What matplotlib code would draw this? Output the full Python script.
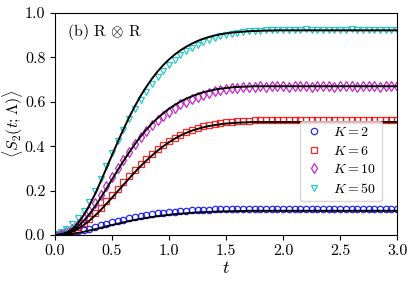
import matplotlib
matplotlib.use("Agg")
import matplotlib.pyplot as plt
import numpy as np

plt.rcParams['font.family'] = 'serif'
plt.rcParams['font.serif'] = ['cmr10', 'DejaVu Serif']
plt.rcParams['mathtext.fontset'] = 'cm'
plt.rcParams['axes.formatter.use_mathtext'] = True
plt.rcParams['axes.unicode_minus'] = False

t = [0.00, 0.05, 0.10, 0.15, 0.20, 0.25, 0.30, 0.35, 0.40, 0.45,
     0.50, 0.55, 0.60, 0.65, 0.70, 0.75, 0.80, 0.85, 0.90, 0.95,
     1.00, 1.05, 1.10, 1.15, 1.20, 1.25, 1.30, 1.35, 1.40, 1.45,
     1.50, 1.55, 1.60, 1.65, 1.70, 1.75, 1.80, 1.85, 1.90, 1.95,
     2.00, 2.05, 2.10, 2.15, 2.20, 2.25, 2.30, 2.35, 2.40, 2.45,
     2.50, 2.55, 2.60, 2.65, 2.70, 2.75, 2.80, 2.85, 2.90, 2.95, 3.00]

# simulation markers
k2_pts = [0.000, 0.002, 0.005, 0.010, 0.016, 0.022, 0.029, 0.036, 0.043, 0.050,
          0.057, 0.063, 0.069, 0.075, 0.080, 0.085, 0.089, 0.093, 0.097, 0.100,
          0.103, 0.105, 0.107, 0.109, 0.111, 0.112, 0.113, 0.114, 0.115, 0.115,
          0.116, 0.116, 0.116, 0.117, 0.116, 0.116, 0.116, 0.117, 0.116, 0.116,
          0.116, 0.116, 0.117, 0.116, 0.116, 0.116, 0.116, 0.117, 0.116, 0.116,
          0.116, 0.116, 0.117, 0.116, 0.116, 0.116, 0.116, 0.117, 0.116, 0.116, 0.116]
k6_pts = [0.001, 0.004, 0.010, 0.020, 0.034, 0.052, 0.073, 0.097, 0.123, 0.151,
          0.180, 0.209, 0.238, 0.266, 0.293, 0.319, 0.343, 0.366, 0.387, 0.406,
          0.423, 0.438, 0.452, 0.464, 0.474, 0.483, 0.490, 0.496, 0.501, 0.505,
          0.508, 0.511, 0.513, 0.514, 0.515, 0.516, 0.516, 0.517, 0.516, 0.517,
          0.518, 0.517, 0.516, 0.517, 0.518, 0.517, 0.516, 0.517, 0.518, 0.517,
          0.517, 0.516, 0.517, 0.518, 0.517, 0.516, 0.517, 0.518, 0.517, 0.517, 0.517]
k10_pts = [0.002, 0.006, 0.014, 0.028, 0.048, 0.075, 0.106, 0.142, 0.180, 0.220,
           0.260, 0.300, 0.338, 0.374, 0.408, 0.440, 0.468, 0.494, 0.517, 0.538,
           0.556, 0.573, 0.588, 0.601, 0.613, 0.623, 0.632, 0.640, 0.647, 0.652,
           0.657, 0.660, 0.663, 0.665, 0.667, 0.668, 0.669, 0.668, 0.670, 0.669,
           0.671, 0.668, 0.670, 0.669, 0.671, 0.668, 0.670, 0.669, 0.671, 0.668,
           0.670, 0.669, 0.671, 0.668, 0.670, 0.669, 0.671, 0.668, 0.670, 0.669, 0.670]
k50_pts = [0.004, 0.013, 0.028, 0.048, 0.075, 0.108, 0.150, 0.198, 0.252, 0.310,
           0.368, 0.424, 0.474, 0.522, 0.567, 0.608, 0.645, 0.680, 0.711, 0.740,
           0.766, 0.789, 0.809, 0.827, 0.843, 0.857, 0.869, 0.879, 0.888, 0.895,
           0.901, 0.906, 0.910, 0.914, 0.917, 0.919, 0.921, 0.922, 0.923, 0.924,
           0.925, 0.923, 0.925, 0.924, 0.926, 0.924, 0.925, 0.923, 0.925, 0.924,
           0.925, 0.924, 0.926, 0.924, 0.925, 0.924, 0.925, 0.923, 0.925, 0.924, 0.925]

# theory curves
k2_th = [0.000, 0.000, 0.002, 0.005, 0.009, 0.014, 0.020, 0.026, 0.032, 0.039,
         0.045, 0.051, 0.057, 0.063, 0.068, 0.073, 0.077, 0.081, 0.085, 0.088,
         0.091, 0.094, 0.096, 0.098, 0.100, 0.102, 0.103, 0.104, 0.105, 0.106,
         0.107, 0.107, 0.108, 0.108, 0.109, 0.109, 0.109, 0.109, 0.109, 0.109,
         0.109, 0.109, 0.109, 0.109, 0.109, 0.109, 0.109, 0.109, 0.109, 0.109,
         0.109, 0.109, 0.109, 0.109, 0.109, 0.109, 0.109, 0.109, 0.109, 0.109, 0.109]
k6_th = [0.000, 0.001, 0.006, 0.015, 0.027, 0.044, 0.064, 0.087, 0.112, 0.140,
         0.168, 0.197, 0.226, 0.255, 0.283, 0.310, 0.335, 0.358, 0.380, 0.400,
         0.418, 0.434, 0.448, 0.460, 0.470, 0.478, 0.485, 0.491, 0.495, 0.499,
         0.502, 0.504, 0.506, 0.507, 0.508, 0.509, 0.509, 0.509, 0.509, 0.509,
         0.509, 0.509, 0.509, 0.509, 0.509, 0.509, 0.509, 0.509, 0.509, 0.509,
         0.509, 0.509, 0.509, 0.509, 0.509, 0.509, 0.509, 0.509, 0.509, 0.509, 0.509]
k10_th = [0.000, 0.002, 0.008, 0.020, 0.038, 0.063, 0.093, 0.128, 0.167, 0.208,
          0.250, 0.292, 0.333, 0.372, 0.409, 0.443, 0.474, 0.502, 0.527, 0.549,
          0.569, 0.586, 0.601, 0.614, 0.625, 0.635, 0.643, 0.649, 0.655, 0.659,
          0.662, 0.665, 0.667, 0.668, 0.669, 0.670, 0.670, 0.670, 0.670, 0.670,
          0.670, 0.670, 0.670, 0.670, 0.670, 0.670, 0.670, 0.670, 0.670, 0.670,
          0.670, 0.670, 0.670, 0.670, 0.670, 0.670, 0.670, 0.670, 0.670, 0.670, 0.670]
k50_th = [0.000, 0.002, 0.010, 0.026, 0.052, 0.088, 0.132, 0.183, 0.240, 0.300,
          0.360, 0.419, 0.476, 0.530, 0.580, 0.626, 0.667, 0.704, 0.737, 0.766,
          0.791, 0.813, 0.832, 0.848, 0.862, 0.874, 0.884, 0.892, 0.899, 0.904,
          0.908, 0.912, 0.914, 0.916, 0.918, 0.919, 0.920, 0.921, 0.921, 0.922,
          0.922, 0.922, 0.922, 0.922, 0.922, 0.922, 0.922, 0.922, 0.922, 0.922,
          0.922, 0.922, 0.922, 0.922, 0.922, 0.922, 0.922, 0.922, 0.922, 0.922, 0.922]

labels = [r'$K=2$', r'$K=6$', r'$K=10$', r'$K=50$']
colors = ['b', 'r', 'm', 'c']
markers = ['o', 's', 'd', 'v']
msizes = [4.6, 4.8, 5.4, 4.8]

fig = plt.figure(figsize=(4.15, 2.83), dpi=100)
ax = fig.add_axes([0.1325, 0.1696, 0.8245, 0.7844])

pts = [k2_pts, k6_pts, k10_pts, k50_pts]
ths = [k2_th, k6_th, k10_th, k50_th]
for p, c, m, ms, lab in zip(pts, colors, markers, msizes, labels):
    ax.plot(t, p, linestyle='none', marker=m, markersize=ms, markerfacecolor='none',
            markeredgecolor=c, markeredgewidth=0.9, alpha=0.85, label=lab, zorder=2)
for th in ths:
    ax.plot(t, th, color='k', lw=1.4, zorder=3)

ax.set_xlim(0, 3.0)
ax.set_ylim(0, 1.0)
ax.set_xticks([0.0, 0.5, 1.0, 1.5, 2.0, 2.5, 3.0])
ax.set_yticks([0.0, 0.2, 0.4, 0.6, 0.8, 1.0])
ax.set_xticklabels(['0.0', '0.5', '1.0', '1.5', '2.0', '2.5', '3.0'])
ax.set_yticklabels(['0.0', '0.2', '0.4', '0.6', '0.8', '1.0'])
ax.tick_params(labelsize=11.5, length=3.5, width=0.8)
ax.set_xlabel(r'$t$', fontsize=13, labelpad=1)
ax.set_ylabel(r'$\langle S_2(t;\Lambda)\rangle$', fontsize=11.5)
ax.yaxis.set_label_coords(-0.088, 0.5)

ax.text(0.035, 0.915, r'(b) R $\otimes$ R', transform=ax.transAxes,
        fontsize=11.5, va='center', ha='left')

leg = ax.legend(loc='lower right', bbox_to_anchor=(0.975, 0.12), fontsize=10,
                handletextpad=0.8, borderpad=0.4, labelspacing=0.4,
                handlelength=1.2)

fig.savefig('out.png', dpi=100)
